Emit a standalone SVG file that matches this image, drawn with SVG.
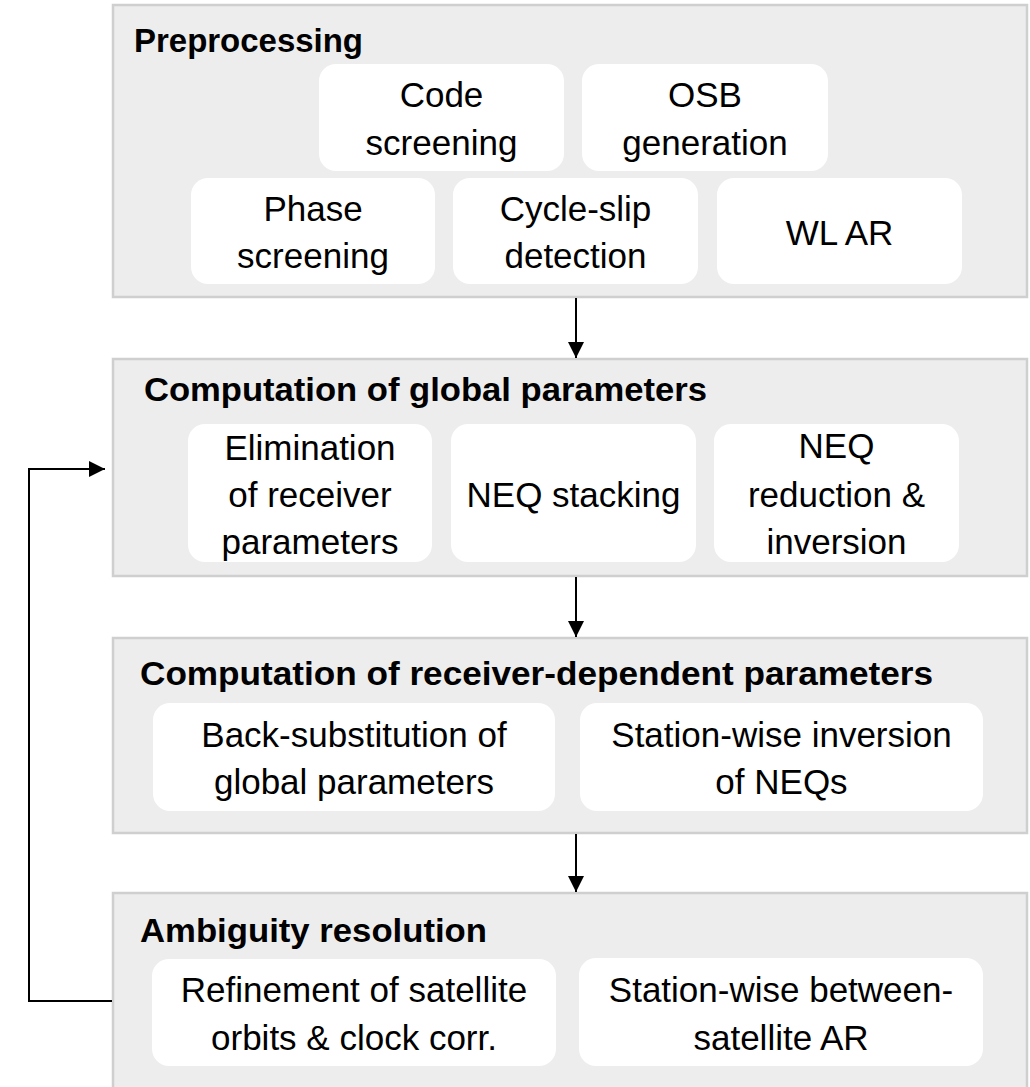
<svg xmlns="http://www.w3.org/2000/svg" width="1030" height="1087" viewBox="0 0 1030 1087">
<defs>
<style>
.panel{fill:#ededed;stroke:#cfcfcf;stroke-width:2.5}
.box{fill:#ffffff;stroke:none}
.title{font-family:"Liberation Sans",Arial,sans-serif;font-weight:bold;font-size:34px;fill:#000}
.lbl{font-family:"Liberation Sans",Arial,sans-serif;font-size:35px;fill:#000;text-anchor:middle}
.conn{fill:none;stroke:#000;stroke-width:2}
</style>
<marker id="ah" markerUnits="userSpaceOnUse" markerWidth="16" markerHeight="16" viewBox="0 0 16 16" refX="16" refY="8" orient="auto">
<path d="M0,0 L16,8 L0,16 Z" fill="#000"/>
</marker>
</defs>
<rect width="1030" height="1087" fill="#ffffff"/>

<g id="preprocessing">
<rect class="panel" x="113" y="5" width="914" height="292"/>
<text class="title" x="134" y="52" textLength="229" lengthAdjust="spacingAndGlyphs">Preprocessing</text>
<g id="code-screening"><rect class="box" x="319" y="64" width="245" height="107" rx="17"/>
<text class="lbl" x="441.5" y="107">Code</text><text class="lbl" x="441.5" y="155">screening</text></g>
<g id="osb-generation"><rect class="box" x="582" y="64" width="246" height="107" rx="17"/>
<text class="lbl" x="705" y="107">OSB</text><text class="lbl" x="705" y="155">generation</text></g>
<g id="phase-screening"><rect class="box" x="191" y="178" width="244" height="106" rx="17"/>
<text class="lbl" x="313" y="221">Phase</text><text class="lbl" x="313" y="268">screening</text></g>
<g id="cycle-slip"><rect class="box" x="453" y="178" width="245" height="106" rx="17"/>
<text class="lbl" x="575.5" y="221">Cycle-slip</text><text class="lbl" x="575.5" y="268">detection</text></g>
<g id="wl-ar"><rect class="box" x="717" y="178" width="245" height="106" rx="17"/>
<text class="lbl" x="839.5" y="245">WL AR</text></g>
</g>

<g id="global-parameters">
<rect class="panel" x="113" y="359" width="914" height="217"/>
<text class="title" x="144" y="401" textLength="563" lengthAdjust="spacingAndGlyphs">Computation of global parameters</text>
<g id="elimination"><rect class="box" x="188" y="424" width="244" height="138" rx="17"/>
<text class="lbl" x="310" y="460">Elimination</text><text class="lbl" x="310" y="507">of receiver</text><text class="lbl" x="310" y="554">parameters</text></g>
<g id="neq-stacking"><rect class="box" x="451" y="424" width="245" height="138" rx="17"/>
<text class="lbl" x="573.5" y="507">NEQ stacking</text></g>
<g id="neq-reduction"><rect class="box" x="714" y="424" width="245" height="138" rx="17"/>
<text class="lbl" x="836.5" y="458">NEQ</text><text class="lbl" x="836.5" y="507">reduction &amp;</text><text class="lbl" x="836.5" y="554">inversion</text></g>
</g>

<g id="receiver-parameters">
<rect class="panel" x="113" y="638" width="914" height="195"/>
<text class="title" x="140" y="685" textLength="793" lengthAdjust="spacingAndGlyphs">Computation of receiver-dependent parameters</text>
<g id="back-substitution"><rect class="box" x="153" y="703" width="402" height="108" rx="17"/>
<text class="lbl" x="354" y="747">Back-substitution of</text><text class="lbl" x="354" y="794">global parameters</text></g>
<g id="station-inversion"><rect class="box" x="580" y="703" width="403" height="108" rx="17"/>
<text class="lbl" x="781.5" y="747">Station-wise inversion</text><text class="lbl" x="781.5" y="794">of NEQs</text></g>
</g>

<g id="ambiguity-resolution">
<rect class="panel" x="113" y="893" width="914" height="200"/>
<text class="title" x="140" y="942" textLength="347" lengthAdjust="spacingAndGlyphs">Ambiguity resolution</text>
<g id="refinement"><rect class="box" x="152" y="959" width="404" height="107" rx="17"/>
<text class="lbl" x="354" y="1002">Refinement of satellite</text><text class="lbl" x="354" y="1050">orbits &amp; clock corr.</text></g>
<g id="station-ar"><rect class="box" x="579" y="958" width="404" height="108" rx="17"/>
<text class="lbl" x="781" y="1002">Station-wise between-</text><text class="lbl" x="781" y="1050">satellite AR</text></g>
</g>

<g id="connectors">
<path class="conn" d="M576,298 V358" marker-end="url(#ah)"/>
<path class="conn" d="M576,577 V637" marker-end="url(#ah)"/>
<path class="conn" d="M576,834 V892" marker-end="url(#ah)"/>
<path class="conn" d="M112,1001 H29 V469 H105" marker-end="url(#ah)"/>
</g>
</svg>
